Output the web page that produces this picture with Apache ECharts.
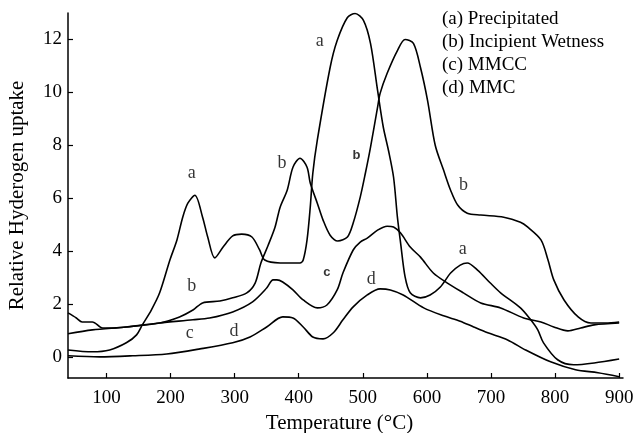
<!DOCTYPE html>
<html>
<head>
<meta charset="utf-8">
<script src="https://cdn.jsdelivr.net/npm/echarts@6/dist/echarts.min.js"></script>
<style>html,body{margin:0;padding:0;background:#fff;}#c{width:633px;height:433px;}</style>
</head>
<body>
<div id="c"></div>
<script>
// Series names
const seriesNames = ['(a) Precipitated', '(b) Incipient Wetness', '(c) MMCC', '(d) MMC'];

// Curve a: Precipitated
const aT = [40,78,105,131,147,156,170,183,199,210,219,227,238,250,258,269,282,297,311,327,339,347,371,402,407,413,418,422,429,449,460,476,488,501,512,523,532,540,548,554,559,566,574,590,605,621,637,652,663,679,699,715,746,762,773,782,804,829,861,900];
const aV = [0.26,0.19,0.26,0.53,0.83,1.21,1.77,2.42,3.66,4.42,5.28,5.81,6.11,5.28,4.53,3.74,4.15,4.57,4.64,4.53,4.04,3.66,3.55,3.55,3.66,4.42,5.66,6.94,8.19,10.94,11.96,12.83,12.98,12.72,11.85,10.08,8.68,7.81,6.79,5.28,4.30,3.02,2.42,2.23,2.34,2.64,3.17,3.47,3.55,3.28,2.79,2.42,1.85,1.40,1.02,0.53,-0.11,-0.30,-0.23,-0.08];

// Curve b: Incipient Wetness
const bT = [40,53,62,78,94,109,131,183,214,235,250,277,297,319,332,341,352,363,371,382,391,402,413,418,429,438,449,461,476,485,496,504,512,523,527,538,554,566,579,590,601,613,626,637,648,663,684,720,746,757,778,789,798,814,836,856,879,900];
const bV = [1.66,1.47,1.32,1.32,1.09,1.09,1.13,1.28,1.51,1.77,2.04,2.11,2.23,2.42,2.79,3.55,4.20,4.90,5.66,6.30,7.17,7.51,7.17,6.57,5.81,5.17,4.60,4.38,4.53,5.06,6.04,6.94,7.92,9.43,9.96,10.72,11.58,12.0,11.85,10.94,9.70,8.0,7.06,6.30,5.74,5.43,5.36,5.28,5.09,4.91,4.42,3.66,2.91,2.15,1.51,1.28,1.28,1.32];

// Curve c: MMCC
const cT = [40,78,131,183,235,261,297,328,350,360,366,375,391,407,429,444,460,469,485,496,507,523,538,548,559,574,590,610,632,657,684,715,751,778,798,820,840,861,900];
const cV = [0.87,1.02,1.13,1.28,1.40,1.47,1.70,2.08,2.60,2.91,2.91,2.83,2.53,2.15,1.85,1.96,2.53,3.17,4.04,4.34,4.49,4.79,4.94,4.91,4.68,4.15,3.77,3.17,2.79,2.42,2.04,1.85,1.47,1.32,1.13,0.98,1.09,1.21,1.28];

// Curve d: MMC
const dT = [40,89,141,194,246,297,324,350,375,391,407,422,438,454,469,485,507,527,543,563,595,626,652,673,695,726,754,793,832,867,900];
const dV = [0.04,0.0,0.04,0.11,0.30,0.53,0.75,1.13,1.51,1.47,1.13,0.75,0.68,0.91,1.40,1.89,2.34,2.57,2.53,2.34,1.85,1.55,1.35,1.13,0.91,0.64,0.26,-0.19,-0.49,-0.60,-0.75];

// Curve annotations
const noteT = [433,233,374,490,657,233,230,299,444,513,656];
const noteV = [11.92,6.94,7.32,7.62,6.49,2.68,0.91,0.98,3.21,2.94,4.08];
const noteText = ['a','a','b','b','b','b','c','d','c','d','a'];
const noteBold = [false,false,false,true,false,false,false,false,true,false,false];

// Tick labels
const xTicks = [100,200,300,400,500,600,700,800,900];
const yTicks = [0,2,4,6,8,10,12];

const serif = "'Liberation Serif', 'Times New Roman', serif";
const zip = (t, v) => t.map((x, i) => [x, v[i]]);
const curves = [[aT,aV],[bT,bV],[cT,cV],[dT,dV]];

const series = curves.map((c, i) => ({
  name: seriesNames[i],
  type: 'line',
  data: zip(c[0], c[1]),
  showSymbol: false,
  smooth: 0.3,
  lineStyle: { color: '#000', width: 1.6 },
  silent: true
}));

const plainNotes = [], boldNotes = [];
noteT.forEach((t, i) => {
  const p = { value: [t, noteV[i]], label: { formatter: noteText[i] } };
  (noteBold[i] ? boldNotes : plainNotes).push(p);
});
series.push({
  type: 'scatter', symbolSize: 0, data: plainNotes, silent: true,
  label: { show: true, position: 'inside', color: '#000', fontFamily: serif, fontSize: 18 }
});
series.push({
  type: 'scatter', symbolSize: 0, data: boldNotes, silent: true,
  label: { show: true, position: 'inside', color: '#000', fontFamily: "'Liberation Sans', Arial, sans-serif", fontWeight: 'bold', fontSize: 13 }
});

const chart = echarts.init(document.getElementById('c'), null, { renderer: 'canvas' });
chart.setOption({
  animation: false,
  backgroundColor: '#fff',
  grid: { left: 68, right: 10, top: 13, bottom: 55, containLabel: false, outerBoundsMode: 'none' },
  xAxis: {
    type: 'value', min: 40, max: 906,
    name: 'Temperature (°C)', nameLocation: 'middle', nameGap: 31,
    nameTextStyle: { fontFamily: serif, fontSize: 21, color: '#000', padding: [0, 12, 0, 0] },
    axisLine: { onZero: false, lineStyle: { color: '#000', width: 1.5 } },
    axisTick: { inside: true, length: 5, lineStyle: { color: '#000', width: 1.2 }, customValues: xTicks },
    axisLabel: { fontFamily: serif, fontSize: 19, color: '#000', margin: 11, customValues: xTicks },
    splitLine: { show: false }
  },
  yAxis: {
    type: 'value', min: -0.8, max: 13,
    name: 'Relative Hyderogen uptake', nameLocation: 'middle', nameGap: 40,
    nameTextStyle: { fontFamily: serif, fontSize: 21, color: '#000' },
    axisLine: { show: true, onZero: false, lineStyle: { color: '#000', width: 1.5 } },
    axisTick: { show: true, inside: true, length: 5, lineStyle: { color: '#000', width: 1.2 }, customValues: yTicks },
    axisLabel: { fontFamily: serif, fontSize: 19, color: '#000', margin: 6, customValues: yTicks },
    splitLine: { show: false }
  },
  graphic: seriesNames.map((n, i) => ({
    type: 'text', left: 442, top: 10 + i * 23,
    style: { text: n, fontFamily: serif, fontSize: 19, fill: '#000' }
  })),
  series: series
});
</script>
</body>
</html>
